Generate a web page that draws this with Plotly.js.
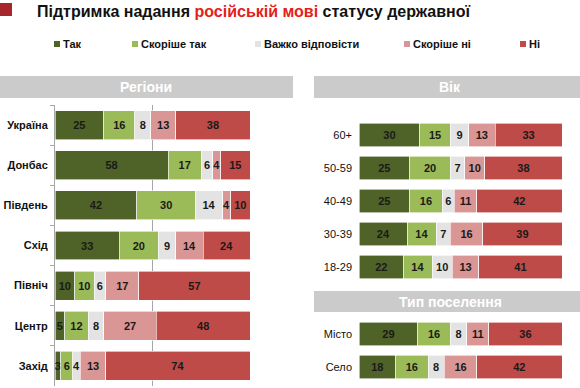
<!DOCTYPE html>
<html>
<head>
<meta charset="utf-8">
<script src="https://cdn.plot.ly/plotly-3.0.1.min.js"></script>
<style>html,body{margin:0;padding:0;background:#fff;} #chart{width:580px;height:388px;}</style>
</head>
<body>
<div id="chart"></div>
<script>
// ---- data ----
var seriesNames = ['Так', 'Скоріше так', 'Важко відповісти', 'Скоріше ні', 'Ні'];
var seriesColors = ['#4F6228', '#9BBB59', '#E3E3E3', '#D99694', '#BE4B48'];

var regions = ['Україна', 'Донбас', 'Південь', 'Схід', 'Північ', 'Центр', 'Захід'];
var regTak = [25, 58, 42, 33, 10, 5, 3];
var regSkorTak = [16, 17, 30, 20, 10, 12, 6];
var regVazhko = [8, 6, 14, 9, 6, 8, 4];
var regSkorNi = [13, 4, 4, 14, 17, 27, 13];
var regNi = [38, 15, 10, 24, 57, 48, 74];

var ages = ['60+', '50-59', '40-49', '30-39', '18-29'];
var ageTak = [30, 25, 25, 24, 22];
var ageSkorTak = [15, 20, 16, 14, 14];
var ageVazhko = [9, 7, 6, 7, 10];
var ageSkorNi = [13, 10, 11, 16, 13];
var ageNi = [33, 38, 42, 39, 41];

var settlements = ['Місто', 'Село'];
var setTak = [29, 18];
var setSkorTak = [16, 16];
var setVazhko = [8, 8];
var setSkorNi = [11, 16];
var setNi = [36, 42];

var panelTitles = ['Регіони', 'Вік', 'Тип поселення'];

// ---- build ----
var W = 580, H = 388;
function px(x) { return x / W; }
function py(y) { return 1 - y / H; }
var FONT = 'Liberation Sans, Arial, sans-serif';

var groups = [
  {cats: regions, vals: [regTak, regSkorTak, regVazhko, regSkorNi, regNi], xa: 'x', ya: 'y', width: 0.72},
  {cats: ages, vals: [ageTak, ageSkorTak, ageVazhko, ageSkorNi, ageNi], xa: 'x2', ya: 'y2', width: 0.70},
  {cats: settlements, vals: [setTak, setSkorTak, setVazhko, setSkorNi, setNi], xa: 'x3', ya: 'y3', width: 0.70}
];

var traces = [];
groups.forEach(function (g) {
  g.vals.forEach(function (v, i) {
    traces.push({
      type: 'bar', orientation: 'h',
      y: g.cats, x: v,
      xaxis: g.xa, yaxis: g.ya,
      name: seriesNames[i],
      showlegend: false,
      width: g.width,
      marker: {color: seriesColors[i], line: {color: '#ffffff', width: 0.6}},
      text: v.map(String),
      textposition: 'inside',
      insidetextanchor: 'middle',
      textangle: 0,
      constraintext: 'none',
      textfont: {family: FONT, size: 11, color: '#1a1a1a', weight: 'bold'},
      hoverinfo: 'skip',
      cliponaxis: false
    });
  });
});

var shapes = [
  // title square
  {type: 'rect', xref: 'paper', yref: 'paper', x0: px(0), x1: px(12), y0: py(16), y1: py(3), fillcolor: '#A5262B', line: {width: 0}},
  // panel headers
  {type: 'rect', xref: 'paper', yref: 'paper', x0: px(0), x1: px(293), y0: py(98), y1: py(76), fillcolor: '#CBCBCB', line: {width: 0}, layer: 'below'},
  {type: 'rect', xref: 'paper', yref: 'paper', x0: px(314), x1: px(580), y0: py(98), y1: py(76), fillcolor: '#CBCBCB', line: {width: 0}, layer: 'below'},
  {type: 'rect', xref: 'paper', yref: 'paper', x0: px(314), x1: px(580), y0: py(312), y1: py(291), fillcolor: '#CBCBCB', line: {width: 0}, layer: 'below'}
];

var annotations = [
  {xref: 'paper', yref: 'paper', x: px(35), y: py(11), xanchor: 'left', yanchor: 'middle', showarrow: false,
   text: 'Підтримка надання <span style="color:#E3211C">російській мові</span> статусу державної',
   font: {family: FONT, size: 16, color: '#111111', weight: 'bold'}},
  {xref: 'paper', yref: 'paper', x: px(146), y: py(87), xanchor: 'center', yanchor: 'middle', showarrow: false,
   text: panelTitles[0], font: {family: FONT, size: 14, color: '#ffffff', weight: 'bold'}},
  {xref: 'paper', yref: 'paper', x: px(450), y: py(87), xanchor: 'center', yanchor: 'middle', showarrow: false,
   text: panelTitles[1], font: {family: FONT, size: 14, color: '#ffffff', weight: 'bold'}},
  {xref: 'paper', yref: 'paper', x: px(450), y: py(301.5), xanchor: 'center', yanchor: 'middle', showarrow: false,
   text: panelTitles[2], font: {family: FONT, size: 14, color: '#ffffff', weight: 'bold'}}
];

// legend (drawn from series names/colors)
var legMarkX = [54, 132, 255, 404, 520];
seriesNames.forEach(function (n, i) {
  shapes.push({type: 'rect', xref: 'paper', yref: 'paper', x0: px(legMarkX[i]), x1: px(legMarkX[i] + 6),
    y0: py(47), y1: py(41), fillcolor: seriesColors[i], line: {width: 0}});
  annotations.push({xref: 'paper', yref: 'paper', x: px(legMarkX[i] + 7), y: py(44), xanchor: 'left', yanchor: 'middle',
    showarrow: false, text: n, font: {family: FONT, size: 11, color: '#111111', weight: 'bold'}});
});

var layout = {
  width: W, height: H,
  margin: {l: 0, r: 0, t: 0, b: 0},
  paper_bgcolor: '#ffffff', plot_bgcolor: 'rgba(0,0,0,0)',
  barmode: 'stack', bargap: 0.28,
  showlegend: false,
  font: {family: FONT},
  xaxis: {domain: [px(55), px(250)], range: [0, 100], anchor: 'y', showgrid: true, gridcolor: '#A6A6A6', gridwidth: 1,
    tick0: 0, dtick: 50, showticklabels: false, zeroline: false, showline: false, ticks: '', fixedrange: true},
  yaxis: {domain: [py(386), py(105)], anchor: 'x', autorange: 'reversed', showline: true, linecolor: '#A6A6A6', linewidth: 1,
    ticks: 'outside', tickson: 'boundaries', ticklen: 4, tickcolor: '#A6A6A6', showgrid: false, zeroline: false,
    tickfont: {family: FONT, size: 11, color: '#111111', weight: 'bold'}, ticklabelstandoff: 4, fixedrange: true},
  xaxis2: {domain: [px(359), px(562)], range: [0, 100], anchor: 'y2', showgrid: false, showticklabels: false,
    zeroline: false, showline: false, ticks: '', fixedrange: true},
  yaxis2: {domain: [py(283.5), py(118.5)], anchor: 'x2', autorange: 'reversed', showline: false, ticks: '', showgrid: false,
    zeroline: false, tickfont: {family: FONT, size: 11, color: '#111111'}, ticklabelstandoff: 6, fixedrange: true},
  xaxis3: {domain: [px(359), px(562)], range: [0, 100], anchor: 'y3', showgrid: false, showticklabels: false,
    zeroline: false, showline: false, ticks: '', fixedrange: true},
  yaxis3: {domain: [py(383.5), py(317.5)], anchor: 'x3', autorange: 'reversed', showline: false, ticks: '', showgrid: false,
    zeroline: false, tickfont: {family: FONT, size: 11, color: '#111111'}, ticklabelstandoff: 6, fixedrange: true},
  shapes: shapes,
  annotations: annotations
};

Plotly.newPlot('chart', traces, layout, {displayModeBar: false, staticPlot: true});
</script>
</body>
</html>
